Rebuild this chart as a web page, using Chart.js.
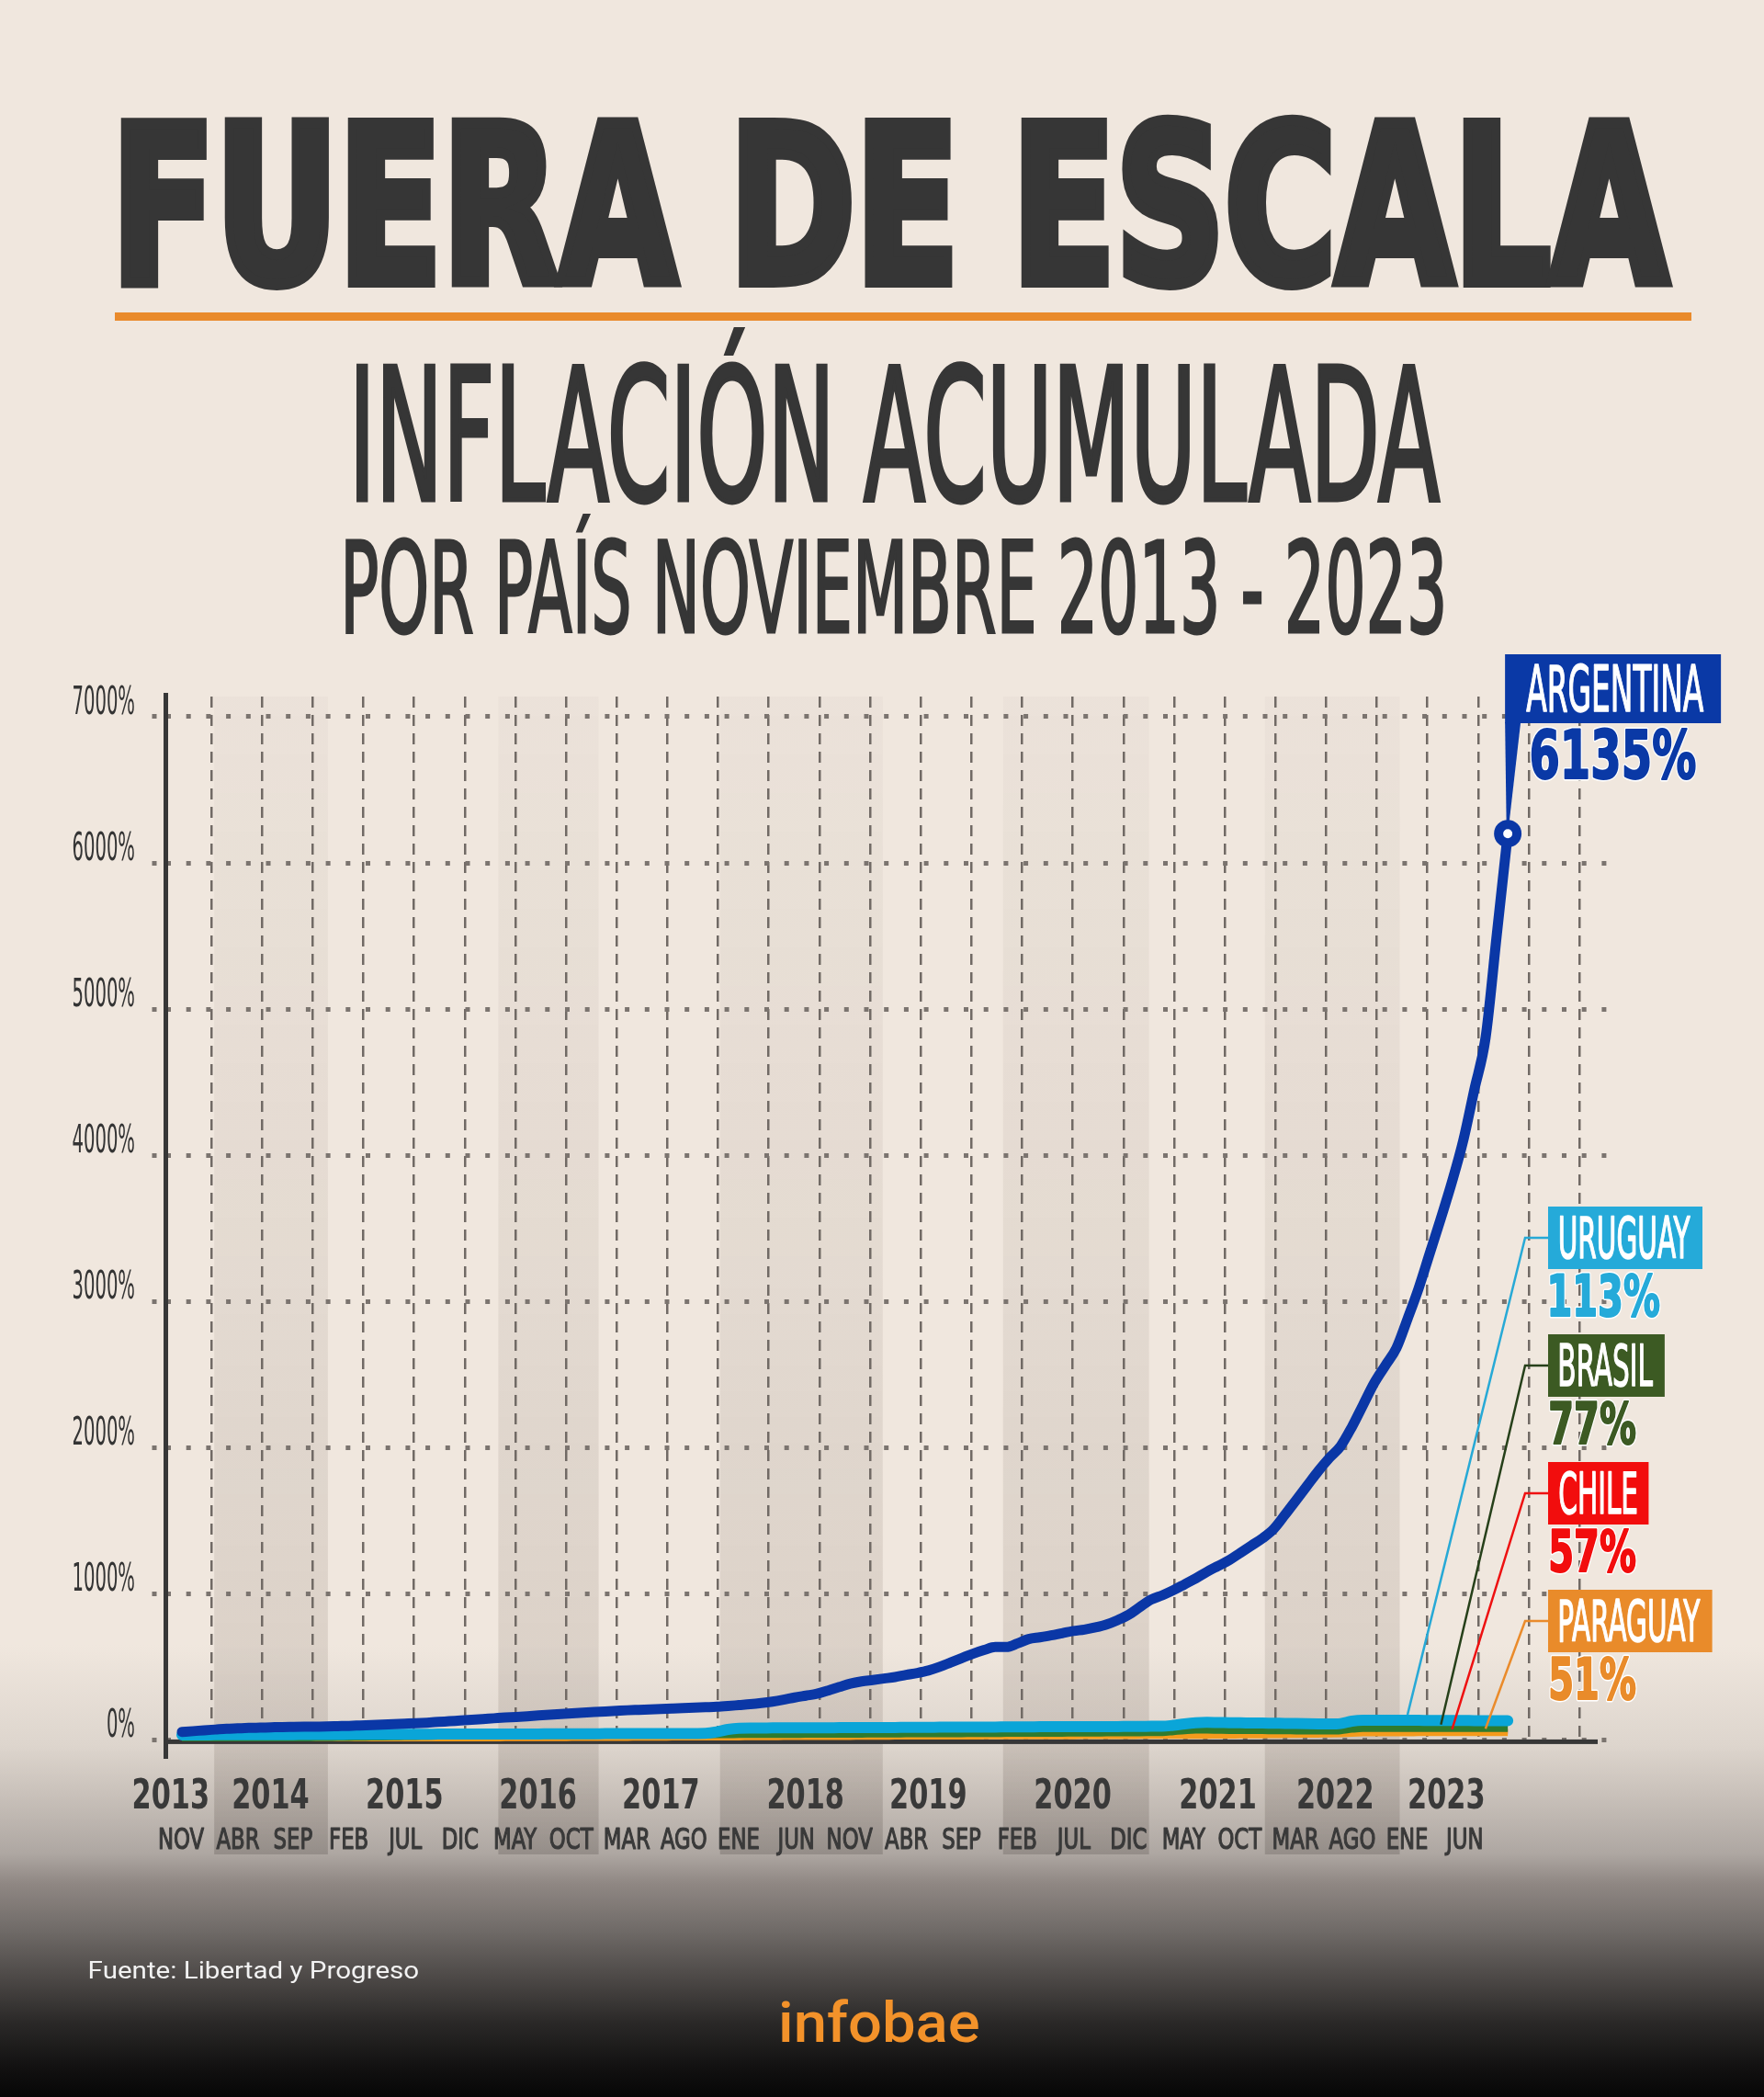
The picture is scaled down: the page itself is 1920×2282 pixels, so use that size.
<!DOCTYPE html>
<html>
<head>
<meta charset="utf-8">
<title>Fuera de escala - Inflación acumulada</title>
<script src="https://cdn.jsdelivr.net/npm/chart.js@4.4.1/dist/chart.umd.min.js"></script>
<style>
  html, body { margin: 0; padding: 0; }
  body {
    width: 1920px; height: 2282px; overflow: hidden;
    background: linear-gradient(to bottom, #f0e7de 0px, #f0e7de 1790px, #ddd5cd 1900px, #cac2bb 1950px,
      #aea7a2 2017px, #8f8783 2050px, #706b68 2100px, #4e4a48 2150px, #2b2928 2200px, #121111 2250px, #060606 2282px);
  }
  #page { position: relative; width: 1920px; height: 2282px; }
  #chart { position: absolute; left: 0; top: 0; }
  #txt { position: absolute; left: 0; top: 0; pointer-events: none; }
</style>
</head>
<body>
<div id="page">
  <canvas id="chart" width="1920" height="2282" style="width:1920px;height:2282px"></canvas>
  <svg id="txt" width="1920" height="2282" viewBox="0 0 1920 2282">
    <rect x="125" y="340" width="1716" height="9" fill="#e98a2b"/>
    <text class="fit" font-family="'Liberation Sans Narrow', 'Arial Narrow', 'DejaVu Sans Condensed', sans-serif" font-weight="bold"
      fill="#363636" stroke="#363636" stroke-width="12" stroke-linejoin="miter"
      data-left="130" data-right="1822" data-base="313" data-cap="185" data-stroke="12">FUERA DE ESCALA</text>
    <text class="fit" font-family="'Liberation Sans Narrow', 'Arial Narrow', 'DejaVu Sans Condensed', sans-serif" font-weight="normal"
      fill="#363636" stroke="#363636" stroke-width="5"
      data-left="386" data-right="1569" data-base="546" data-cap="151" data-stroke="5">INFLACIÓN ACUMULADA</text>
    <text class="fit" font-family="'Liberation Sans Narrow', 'Arial Narrow', 'DejaVu Sans Condensed', sans-serif" font-weight="normal"
      fill="#363636" stroke="#363636" stroke-width="3"
      data-left="375" data-right="1572" data-base="689" data-cap="103" data-stroke="3">POR PAÍS NOVIEMBRE 2013 - 2023</text>
    <text class="fit" font-family="Roboto, 'Open Sans', sans-serif" font-weight="normal"
      fill="#f2f2f2" data-left="98" data-right="455" data-base="2153" data-cap="18">Fuente: Libertad y Progreso</text>
    <text class="fit" font-family="Roboto, 'Open Sans', sans-serif" font-weight="500"
      fill="#f3922a" data-left="851" data-right="1065" data-base="2222" data-cap="44">infobae</text>
  </svg>
</div>
<script>
// accumulated inflation since Nov 2013, one value per month (Nov 2013 .. Oct 2023)
const argentina = [
  55, 60, 66, 71, 76, 79, 82, 84, 86, 88, 89, 90,
  91, 92, 94, 96, 99, 102, 105, 108, 111, 114, 118, 123,
  128, 133, 138, 143, 148, 153, 157, 162, 167, 172, 177, 182,
  187, 191, 195, 199, 203, 206, 209, 212, 215, 218, 221, 224,
  227, 232, 238, 244, 252, 262, 275, 290, 303, 316, 338, 362,
  385, 400, 410, 420, 430, 445, 458, 475, 500, 530, 560, 590,
  615, 636, 636, 660, 690, 702, 715, 730, 745, 755, 770, 790,
  820, 857, 910, 960, 990, 1025, 1065, 1105, 1150, 1190, 1230, 1280,
  1330, 1380, 1444, 1540, 1640, 1740, 1840, 1930, 2010, 2140, 2290, 2440,
  2560, 2680, 2880, 3090, 3330, 3570, 3820, 4100, 4450, 4800, 5500, 6200
];
const uruguay = [
  34, 34, 34, 35, 35, 35, 35, 36, 36, 36, 36, 37,
  37, 37, 37, 38, 38, 38, 38, 39, 39, 39, 39, 40,
  40, 40, 40, 40, 41, 41, 41, 41, 41, 42, 42, 42,
  42, 42, 43, 43, 43, 43, 43, 44, 44, 44, 44, 45,
  55, 72, 80, 81, 81, 82, 82, 82, 83, 83, 83, 84,
  84, 84, 85, 85, 85, 86, 86, 86, 87, 87, 87, 88,
  88, 88, 89, 89, 89, 90, 90, 90, 90, 91, 91, 91,
  91, 92, 92, 93, 93, 100, 110, 117, 120, 119, 118, 117,
  116, 115, 114, 113, 112, 111, 110, 109, 112, 128, 134, 134,
  134, 134, 134, 134, 133, 133, 133, 133, 132, 132, 132, 132
];
const brasil = [
  2, 4, 6, 7, 8, 9, 10, 11, 12, 13, 14, 15,
  16, 17, 18, 19, 20, 21, 22, 23, 24, 25, 26, 27,
  28, 28, 29, 29, 30, 30, 31, 31, 32, 32, 32, 33,
  33, 33, 34, 34, 34, 35, 35, 35, 36, 36, 36, 37,
  37, 37, 38, 38, 38, 39, 39, 39, 40, 40, 40, 41,
  41, 41, 42, 42, 42, 43, 43, 43, 44, 44, 44, 45,
  45, 45, 46, 46, 46, 47, 47, 47, 48, 48, 48, 49,
  49, 50, 50, 51, 52, 58, 64, 68, 68, 67, 66, 66,
  65, 65, 64, 64, 63, 63, 62, 62, 64, 74, 80, 80,
  80, 80, 80, 80, 80, 80, 80, 80, 80, 80, 80, 80
];
const chile = [
  1, 2, 3, 4, 5, 5, 6, 7, 7, 8, 8, 9,
  9, 10, 10, 11, 11, 12, 12, 13, 13, 14, 14, 15,
  15, 16, 16, 17, 17, 18, 18, 19, 19, 20, 20, 21,
  21, 22, 22, 23, 23, 24, 24, 25, 25, 26, 26, 27,
  27, 27, 28, 28, 29, 29, 30, 30, 30, 31, 31, 32,
  32, 32, 33, 33, 33, 34, 34, 34, 35, 35, 35, 36,
  36, 36, 37, 37, 37, 38, 38, 38, 39, 39, 39, 40,
  40, 40, 41, 41, 42, 43, 44, 45, 45, 46, 46, 46,
  47, 47, 48, 48, 49, 49, 50, 51, 52, 54, 56, 57,
  57, 57, 57, 57, 57, 57, 57, 57, 57, 57, 57, 57
];
const paraguay = [
  1, 2, 3, 3, 4, 5, 5, 6, 6, 7, 7, 8,
  8, 9, 9, 10, 10, 11, 11, 12, 12, 12, 13, 13,
  14, 14, 14, 15, 15, 16, 16, 16, 17, 17, 17, 18,
  18, 18, 19, 19, 19, 20, 20, 20, 21, 21, 21, 22,
  22, 22, 22, 23, 23, 23, 24, 24, 24, 25, 25, 25,
  25, 26, 26, 26, 27, 27, 27, 27, 28, 28, 28, 28,
  29, 29, 29, 29, 30, 30, 30, 30, 30, 31, 31, 31,
  31, 31, 32, 32, 32, 32, 33, 33, 33, 34, 34, 35,
  35, 36, 37, 38, 39, 40, 41, 42, 44, 47, 49, 50,
  50, 50, 50, 51, 51, 51, 51, 51, 51, 51, 51, 51
];

const countries = ['ARGENTINA', 'URUGUAY', 'BRASIL', 'CHILE', 'PARAGUAY'];
const finalPct = [6135, 113, 77, 57, 51];
const anchorMonth = [119, 110, 113, 114, 117];   // where each label is tied to its line

const yTicks = [0, 1000, 2000, 3000, 4000, 5000, 6000, 7000];
const yearLabels = ['2013', '2014', '2015', '2016', '2017', '2018', '2019', '2020', '2021', '2022', '2023'];
const yearAt = [-1, 8, 20, 32, 43, 56, 67, 80, 93, 103.5, 113.5];
const monthLabels = ['NOV', 'ABR', 'SEP', 'FEB', 'JUL', 'DIC', 'MAY', 'OCT', 'MAR', 'AGO', 'ENE', 'JUN',
  'NOV', 'ABR', 'SEP', 'FEB', 'JUL', 'DIC', 'MAY', 'OCT', 'MAR', 'AGO', 'ENE', 'JUN'];
const bandFrom = [2.9, 28.4, 48.3, 73.7, 97.2];
const bandTo = [13.1, 37.4, 62.9, 86.8, 109.3];

const series = [argentina, uruguay, brasil, chile, paraguay];
const lineColor = ['#0a37a6', '#0aa5d8', '#2f7b2e', '#ea1b1b', '#f59b1c'];
const boxColor = ['#0a39a6', '#25aad9', '#3c5a23', '#f20d0d', '#e98b2a'];
const linkColor = ['#0a39a6', '#27a9d6', '#26401a', '#ee1111', '#ea8b2b'];
const lineWidth = [11, 12, 8, 5, 8];

const NARROW = "'Liberation Sans Narrow', 'Arial Narrow', 'DejaVu Sans Condensed', sans-serif";

// text metrics, per 1px of font size
const mctx = document.createElement('canvas').getContext('2d');
function metrics(text, weight, family) {
  mctx.font = weight + ' 100px ' + family;
  const m = mctx.measureText(text);
  const h = mctx.measureText('H').actualBoundingBoxAscent;
  return { w: m.width / 100, l: m.actualBoundingBoxLeft / 100, r: m.actualBoundingBoxRight / 100, cap: h / 100 };
}

// fit the svg headings into their boxes
document.querySelectorAll('#txt text.fit').forEach(el => {
  const d = el.dataset;
  const sw = +(d.stroke || 0);
  const fam = el.getAttribute('font-family');
  const wt = el.getAttribute('font-weight') || 'normal';
  const mt = metrics(el.textContent, wt, fam);
  const cap = +d.cap - sw, L = +d.left + sw / 2, R = +d.right - sw / 2;
  const fs = cap / mt.cap;
  const s = (R - L) / ((mt.l + mt.r) * fs);
  el.setAttribute('font-size', fs.toFixed(2));
  el.setAttribute('x', (L + s * mt.l * fs).toFixed(2));
  el.setAttribute('y', (+d.base - sw / 2).toFixed(2));
  el.setAttribute('textLength', (s * mt.w * fs).toFixed(2));
  el.setAttribute('lengthAdjust', 'spacingAndGlyphs');
});

// horizontal squeeze so that a reference string gets a given ink width
function squeeze(ref, width, cap, weight) {
  const mt = metrics(ref, weight || 'bold', NARROW);
  return width / ((mt.l + mt.r) * cap / mt.cap);
}

// canvas label: x is ink-left (or centre / right), base is the baseline
function drawLabel(ctx, text, o) {
  const fam = o.family || NARROW, wt = o.weight || 'bold';
  const mt = metrics(text, wt, fam);
  const fs = o.cap / mt.cap;
  const inkW = (mt.l + mt.r) * fs * o.sx;
  if (o.dry) return inkW;
  let x0 = o.x;
  if (o.align === 'center') x0 = o.x - inkW / 2;
  else if (o.align === 'right') x0 = o.x - inkW;
  ctx.save();
  ctx.font = wt + ' ' + fs.toFixed(2) + 'px ' + fam;
  ctx.textAlign = 'left';
  ctx.textBaseline = 'alphabetic';
  ctx.translate(x0 + mt.l * fs * o.sx, o.base);
  ctx.scale(o.sx, 1);
  ctx.lineJoin = 'round';
  if (o.outline) { ctx.lineWidth = o.outline + (o.thick || 0); ctx.strokeStyle = '#ffffff'; ctx.strokeText(text, 0, 0); }
  if (o.thick) { ctx.lineWidth = o.thick; ctx.strokeStyle = o.color; ctx.strokeText(text, 0, 0); }
  ctx.fillStyle = o.color;
  ctx.fillText(text, 0, 0);
  ctx.restore();
  return inkW;
}

const decor = {
  id: 'decor',
  beforeDraw(chart) {
    const { ctx, chartArea: a, scales: { x } } = chart;
    const bottom = a.bottom + 123;
    const g = ctx.createLinearGradient(0, a.top, 0, bottom);
    g.addColorStop(0, 'rgba(105,90,80,0.03)');
    g.addColorStop(0.5, 'rgba(105,90,80,0.09)');
    g.addColorStop(0.9, 'rgba(105,90,80,0.16)');
    g.addColorStop(1, 'rgba(70,62,58,0.24)');
    ctx.save();
    ctx.fillStyle = g;
    bandFrom.forEach((f, i) => {
      const x0 = x.getPixelForValue(f), x1 = x.getPixelForValue(bandTo[i]);
      ctx.fillRect(x0, a.top, x1 - x0, bottom - a.top);
    });
    ctx.restore();
  },
  beforeDatasetsDraw(chart) {
    const { ctx, chartArea: a, scales: { y } } = chart;
    const y0 = y.getPixelForValue(0);
    ctx.save();
    ctx.fillStyle = '#373737';
    ctx.fillRect(a.left - 2.5, a.top - 4, 5, a.bottom + 19 - (a.top - 4));
    ctx.fillRect(a.left, y0 - 0.5, a.right - 16 - a.left, 5);
    ctx.restore();
  },
  afterDraw(chart) {
    const { ctx, chartArea: a, scales: { x, y } } = chart;

    const sxY = squeeze('7000%', 66, 31.6, 'normal');
    yTicks.forEach(v => drawLabel(ctx, v + '%', {
      x: a.left - 34.5, align: 'right', base: y.getPixelForValue(v) - 3, cap: 31.6, sx: sxY,
      weight: 'normal', color: '#343434'
    }));
    const sxYear = squeeze('2013', 80, 33, 'bold');
    yearLabels.forEach((t, i) => drawLabel(ctx, t, {
      x: x.getPixelForValue(yearAt[i]), align: 'center', base: a.bottom + 73, cap: 33, sx: sxYear, color: '#393939'
    }));
    const sxMonth = squeeze('NOV', 48, 23.3, 'normal');
    monthLabels.forEach((t, i) => drawLabel(ctx, t, {
      x: x.getPixelForValue(i * 5), align: 'center', base: a.bottom + 117, cap: 23.3, sx: sxMonth,
      weight: 'normal', thick: 1.2, color: '#393939'
    }));

    // Argentina flag
    const last = anchorMonth[0];
    const px = x.getPixelForValue(last), py = y.getPixelForValue(argentina[last]);
    const bx = px - 3, by = 712, bh = 75;
    const sxA = squeeze(countries[0], 193, 51, 'normal');
    const tw = drawLabel(ctx, countries[0], { cap: 51, sx: sxA, weight: 'normal', dry: true });
    ctx.save();
    ctx.fillStyle = boxColor[0];
    ctx.fillRect(bx, by, tw + 42, bh);
    ctx.beginPath();
    ctx.moveTo(bx, by + bh - 1);
    ctx.lineTo(bx + 17, by + bh - 1);
    ctx.lineTo(px + 1.5, py - 12);
    ctx.lineTo(px - 1.5, py - 12);
    ctx.closePath();
    ctx.fill();
    ctx.restore();
    drawLabel(ctx, countries[0], { x: bx + 23, base: by + 62, cap: 51, sx: sxA, weight: 'normal', color: '#ffffff', thick: 1.5 });
    const sxPA = squeeze('6135%', 178, 53, 'bold');
    drawLabel(ctx, finalPct[0] + '%', { x: bx + 29, base: by + 135, cap: 53, sx: sxPA, color: boxColor[0], outline: 3, thick: 2 });

    // other countries
    const sxN = squeeze('URUGUAY', 142, 45, 'normal');
    const sxP = squeeze('113%', 118, 45, 'bold');
    for (let i = 1; i < countries.length; i++) {
      const top = 1313 + (i - 1) * 139, left = 1685, bh2 = 68;
      const m = anchorMonth[i];
      const ax = x.getPixelForValue(m), ay = y.getPixelForValue(series[i][m]) - lineWidth[i] / 2;
      ctx.save();
      ctx.strokeStyle = linkColor[i];
      ctx.lineWidth = 2.5;
      ctx.beginPath();
      ctx.moveTo(left, top + bh2 / 2);
      ctx.lineTo(1660, top + bh2 / 2);
      ctx.lineTo(ax, ay);
      ctx.stroke();
      const w = drawLabel(ctx, countries[i], { cap: 45, sx: sxN, weight: 'normal', dry: true });
      ctx.fillStyle = boxColor[i];
      ctx.fillRect(left, top, w + 26, bh2);
      ctx.restore();
      drawLabel(ctx, countries[i], { x: left + 13, base: top + 56, cap: 45, sx: sxN, weight: 'normal', color: '#ffffff', thick: 1.5 });
      drawLabel(ctx, finalPct[i] + '%', { x: left + 3, base: top + 119, cap: 45, sx: sxP, color: boxColor[i], outline: 3, thick: 2 });
    }
  }
};

const toXY = s => s.map((v, i) => ({ x: i, y: v }));
const lineSet = (i, extra) => Object.assign({
  label: countries[i], data: toXY(series[i]), xAxisID: 'x', yAxisID: 'y',
  borderColor: lineColor[i], backgroundColor: lineColor[i], borderWidth: lineWidth[i],
  pointRadius: 0, fill: false, cubicInterpolationMode: 'monotone', borderJoinStyle: 'round'
}, extra || {});

const lastA = argentina.length - 1;
new Chart(document.getElementById('chart'), {
  type: 'line',
  data: {
    datasets: [
      lineSet(0, {
        borderCapStyle: 'round',
        pointRadius: c => c.dataIndex === lastA ? 10 : 0,
        pointBorderWidth: 10, pointBorderColor: lineColor[0], pointBackgroundColor: '#ffffff'
      }),
      lineSet(1, { borderCapStyle: 'round' }),
      lineSet(2),
      lineSet(4),
      lineSet(3)
    ]
  },
  options: {
    responsive: false,
    animation: false,
    devicePixelRatio: 1,
    layout: { padding: { left: 165.5, top: 758, right: 165, bottom: 387 } },
    plugins: { legend: { display: false }, tooltip: { enabled: false } },
    scales: {
      x: {
        type: 'linear', min: -1.443, max: 128.39,
        grid: { display: false }, ticks: { display: false }, border: { display: false },
        afterFit: s => { s.height = 0; }
      },
      g: {
        type: 'linear', position: 'bottom', min: -0.8976, max: 27.65,
        grid: { color: '#716a65', lineWidth: 2.5, drawTicks: false },
        border: { display: false, dash: [12, 8] },
        ticks: { display: false },
        afterBuildTicks: s => { s.ticks = Array.from({ length: 28 }, (_, k) => ({ value: k })); },
        afterFit: s => { s.height = 0; }
      },
      y: {
        type: 'linear', min: -10, max: 7138,
        grid: { color: '#7b746f', lineWidth: 5, tickLength: 15, tickColor: '#7b746f', tickWidth: 5, tickBorderDash: [5, 16.7] },
        border: { display: false, dash: [5, 16.7] },
        ticks: { display: false },
        afterBuildTicks: s => { s.ticks = yTicks.map(v => ({ value: v })); },
        afterFit: s => { s.width = 15; }
      }
    }
  },
  plugins: [decor]
});
</script>
</body>
</html>
